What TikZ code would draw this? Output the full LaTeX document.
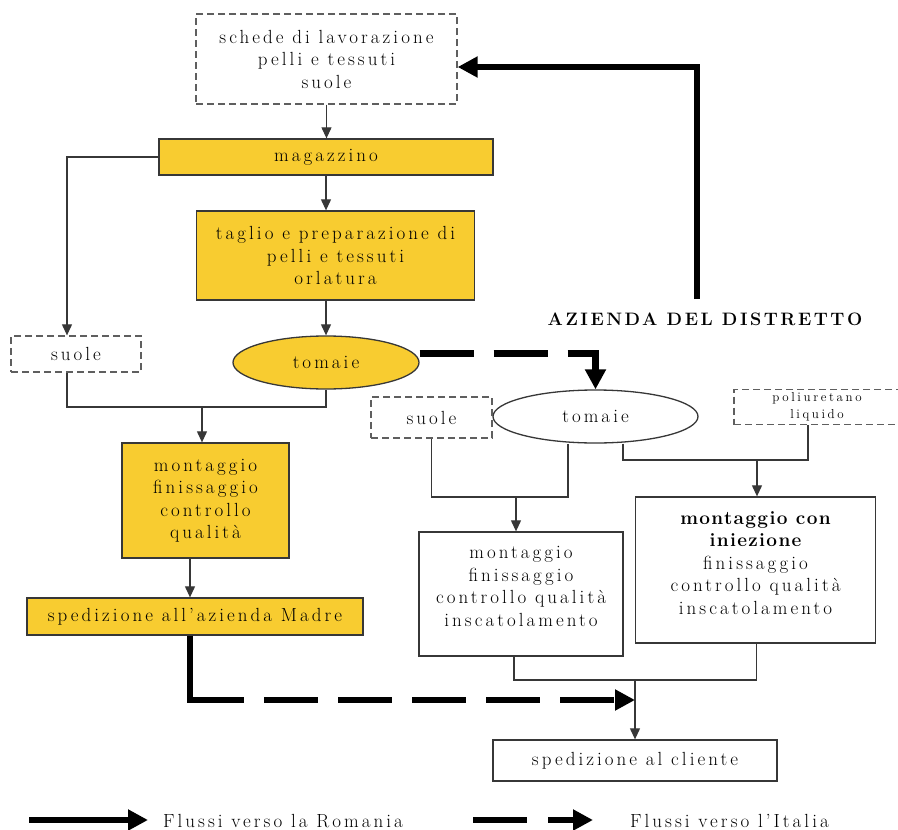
\documentclass[tikz,border=0pt]{standalone}
\usepackage{fontspec}
\usetikzlibrary{shapes.geometric,arrows.meta}
\newfontfamily\spaced{Latin Modern Roman}[LetterSpace=16]
\newfontfamily\widespaced{Latin Modern Roman}[LetterSpace=20]
\definecolor{ochre}{RGB}{248,204,48}
\definecolor{rim}{RGB}{55,55,55}
\definecolor{dashrim}{RGB}{95,95,95}
\newcommand{\boldline}[1]{{\bfseries\addfontfeatures{LetterSpace=7}#1}}
\tikzset{
  txt/.style={font=\spaced\fontsize{19}{22.5}\selectfont, align=center, inner sep=0pt, text=black},
  plainbox/.style={draw=rim, line width=1.3pt, txt},
  yellowbox/.style={plainbox, fill=ochre},
  dashbox/.style={draw=dashrim, line width=1.3pt, dash pattern=on 7pt off 4pt, txt},
  thin/.style={draw=rim, line width=1.1pt},
  flow/.style={thin, -{Triangle[length=11pt,width=10pt]}},
  heavy/.style={line width=6.5pt, -{Triangle[length=20pt,width=20pt]}},
  heavydash/.style={heavy, dash pattern=on 54pt off 20pt},
  legendtext/.style={anchor=west, inner sep=0pt, font=\spaced\fontsize{19}{22}\selectfont},
}
\begin{document}
\begin{tikzpicture}[x=1pt,y=-1pt]
\useasboundingbox (0,0) rectangle (898,830);

% --- left column: work done in Romania ---
\node[dashbox, minimum width=261pt, minimum height=90pt] (schede) at (326.5,59)
  {schede di lavorazione\\pelli e tessuti\\suole};
\node[yellowbox, minimum width=334pt, minimum height=36pt] (magazzino) at (326,157) {magazzino};
\node[yellowbox, minimum width=278pt, minimum height=89pt] (taglio) at (335.5,255.5)
  {taglio e preparazione di\\pelli e tessuti\\orlatura};
\node[ellipse, draw=rim, line width=1.3pt, fill=ochre, txt, minimum width=186pt, minimum height=53pt] (tomaieL) at (326,362.5) {tomaie};
\node[dashbox, minimum width=130pt, minimum height=36pt] (suoleL) at (76,354) {suole};
\node[yellowbox, minimum width=167pt, minimum height=115pt] (montY) at (205.5,500.5)
  {montaggio\\finissaggio\\controllo\\qualità};
\node[yellowbox, minimum width=336pt, minimum height=37pt] (spedM) at (195,616.5) {spedizione all’azienda Madre};

% --- right column: district firm ---
\node[font=\spaced\fontsize{18}{20}\selectfont\bfseries\addfontfeatures{LetterSpace=14}, inner sep=0pt] (azienda) at (705,319) {AZIENDA DEL DISTRETTO};
\node[ellipse, draw=rim, line width=1.3pt, fill=white, txt, minimum width=205pt, minimum height=53pt] (tomaieR) at (595.5,416.5) {tomaie};
\node[dashbox, minimum width=121pt, minimum height=41pt] (suoleR) at (431.5,417.5) {suole};
\node[dashbox, minimum width=166pt, minimum height=35pt, font=\widespaced\fontsize{13}{17}\selectfont] (poli) at (817,407) {poliuretano\\liquido};
\node[plainbox, minimum width=204pt, minimum height=124pt] (box1) at (521,594) {};
\node[txt] (box1t) at (box1.center) [yshift=7.5pt] {montaggio\\finissaggio\\controllo qualità\\inscatolamento};
\node[plainbox, minimum width=240pt, minimum height=146pt] (box2) at (755.5,570) {};
\node[txt] (box2t) at (box2.center) [yshift=7pt] {\boldline{montaggio con}\\\boldline{iniezione}\\finissaggio\\controllo qualità\\inscatolamento};
\node[plainbox, minimum width=284pt, minimum height=41pt] (cliente) at (635,760.5) {spedizione al cliente};

% --- connectors, left column ---
\draw[flow] (schede.south) -- (schede.south |- magazzino.north);
\draw[flow] (magazzino.south) -- (magazzino.south |- taglio.north);
\draw[flow] (tomaieL.north |- taglio.south) -- (tomaieL.north);
\draw[flow] (magazzino.west) -| ([xshift=-9pt]suoleL.north);
\coordinate (jL) at (202,407);
\draw[thin] ([xshift=-9pt]suoleL.south) |- (jL) -| (tomaieL.south);
\draw[flow] (jL) -- (jL |- montY.north);
\draw[flow] ([xshift=-15.5pt]montY.south) -- ([xshift=-15.5pt]montY.south |- spedM.north);

% --- connectors, right column ---
\coordinate (jR1) at (516,497);
\draw[thin] (suoleR.south) |- (jR1) -| ([xshift=-27.5pt]tomaieR.south);
\draw[flow] (jR1) -- (jR1 |- box1.north);
\coordinate (jR2) at (757,460);
\draw[thin] ([xshift=27.5pt]tomaieR.south) |- (jR2) -| ([xshift=-9pt]poli.south);
\draw[flow] (jR2) -- (jR2 |- box2.north);
\coordinate (jB) at (635,680);
\draw[thin] ([xshift=-7pt]box1.south) |- (jB) -| ([xshift=1pt]box2.south);
\draw[flow] (jB) -- (cliente.north);

% --- heavy flows ---
\coordinate (aziendaTop) at (697,299);
\draw[heavy] (aziendaTop) |- ([yshift=-8pt]schede.east);
\draw[heavydash] ([yshift=9pt]tomaieL.east) -| (tomaieR.north);
\coordinate (elbow) at (190,700);
\draw[line width=6.5pt] (spedM.south -| elbow) -- ([yshift=-3.25pt]elbow);
\draw[heavydash] (elbow) -- (elbow -| jB);

% --- legend ---
\coordinate (romA) at (29,820);
\coordinate (romB) at (148,820);
\draw[heavy] (romA) -- (romB);
\node[legendtext] (romT) at (163,821) {Flussi verso la Romania};
\coordinate (itaA) at (473,820);
\coordinate (itaB) at (593,820);
\draw[heavydash, dash pattern=on 54pt off 21pt] (itaA) -- (itaB);
\node[legendtext] (itaT) at (630,821) {Flussi verso l’Italia};
\end{tikzpicture}
\end{document}
